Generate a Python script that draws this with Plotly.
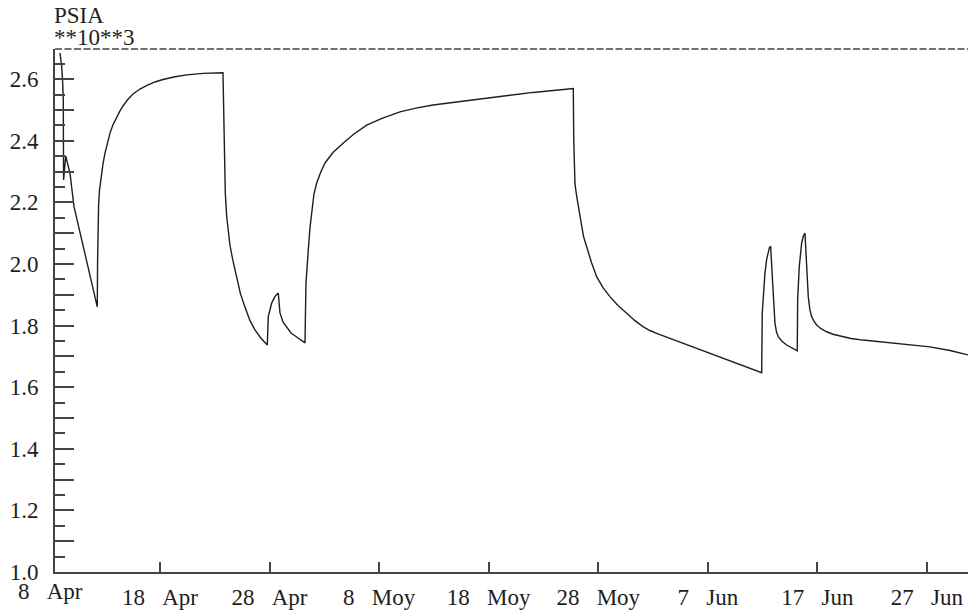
import pandas as pd
import plotly.graph_objects as go

# Well pressure record, days elapsed since 8 Apr, pressure in thousands of psia
start_date = "2021-04-08"
elapsed_days = [
    # early drawdown
    0.876, 1.031, 1.123, 1.177, 1.186, 1.196, 1.205, 1.396, 1.789, 2.154,
    2.701, 3.459, 4.280,
    # first build-up
    4.308, 4.344, 4.399, 4.481, 4.618, 4.801, 4.983, 5.211, 5.439, 5.713,
    6.051, 6.352, 6.626, 7.082, 7.539, 8.177, 8.816, 9.546, 10.277, 11.372,
    12.467, 13.927, 15.752,
    # second drawdown and short flow
    15.871, 15.963, 16.090, 16.236, 16.391, 16.665, 17.003, 17.350, 17.760, 18.217,
    18.673, 19.221, 19.796, 19.887, 20.197, 20.499, 20.799, 20.955, 21.228, 21.566,
    21.959, 22.479, 23.236,
    # long build-up
    23.327, 23.418, 23.537, 23.693, 23.848, 24.058, 24.304, 24.651, 25.062, 25.792,
    26.732, 27.708, 28.868, 30.264, 31.907, 33.367, 34.919, 37.200, 39.482, 41.764,
    44.045, 45.870, 47.723,
    # third drawdown
    47.769, 47.878, 48.034, 48.180, 48.426, 48.654, 48.946, 49.384, 49.859, 50.434,
    51.073, 51.803, 52.597, 53.354, 54.112, 54.723, 55.335, 64.917,
    # two short shut-ins
    64.972, 65.081, 65.219, 65.374, 65.520, 65.629, 65.739, 65.830, 65.921, 66.131,
    66.268, 66.432, 66.770, 67.199, 67.683, 68.166, 68.203, 68.349, 68.568, 68.714,
    68.869, 69.025, 69.171, 69.325, 69.481, 69.672, 69.937, 70.330, 70.850, 71.425,
    # late drawdown
    72.064, 73.068, 74.163, 75.714, 77.266, 78.817, 80.278, 82.103, 83.746,
]
psia_thousands = [
    2.685, 2.641, 2.588, 2.532, 2.425, 2.338, 2.273, 2.351, 2.294, 2.186,
    2.101, 1.981, 1.861,
    2.013, 2.120, 2.190, 2.240, 2.282, 2.325, 2.360, 2.395, 2.425, 2.452,
    2.477, 2.497, 2.513, 2.535, 2.552, 2.568, 2.580, 2.591, 2.599, 2.608,
    2.614, 2.619, 2.621,
    2.338, 2.230, 2.154, 2.100, 2.060, 2.010, 1.955, 1.903, 1.860, 1.816,
    1.786, 1.759, 1.737, 1.829, 1.873, 1.895, 1.906, 1.841, 1.812, 1.795,
    1.776, 1.763, 1.744,
    1.938, 2.000, 2.045, 2.118, 2.175, 2.228, 2.263, 2.296, 2.328, 2.362,
    2.393, 2.422, 2.451, 2.473, 2.494, 2.506, 2.516, 2.527, 2.537, 2.547,
    2.557, 2.564, 2.570,
    2.400, 2.260, 2.220, 2.186, 2.127, 2.090, 2.056, 2.005, 1.959, 1.923,
    1.894, 1.865, 1.840, 1.816, 1.796, 1.784, 1.775, 1.647,
    1.841, 1.915, 1.971, 2.015, 2.045, 2.054, 2.056, 2.010, 1.938, 1.808,
    1.780, 1.764, 1.749, 1.737, 1.727, 1.718, 1.883, 1.991, 2.068, 2.090,
    2.100, 1.991, 1.894, 1.850, 1.829, 1.815, 1.802, 1.790, 1.780, 1.772,
    1.766, 1.758, 1.753, 1.748, 1.743, 1.738, 1.731, 1.719, 1.705,
]

# Date axis ticks (every ten days) and their labels
tick_dates = ["2021-04-18", "2021-04-28", "2021-05-08", "2021-05-18",
              "2021-05-28", "2021-06-07", "2021-06-17", "2021-06-27"]
tick_days = ["18", "28", "8", "18", "28", "7", "17", "27"]
tick_months = ["Apr", "Apr", "Moy", "Moy", "Moy", "Jun", "Jun", "Jun"]
first_label = ("8", "Apr")

# Pressure axis ticks
y_tick_vals = [round(1.0 + 0.1 * i, 1) for i in range(17)]
y_tick_text = ["1.0", "", "1.2", "", "1.4", "", "1.6", "", "1.8", "",
               "2.0", "", "2.2", "", "2.4", "", "2.6"]

x_range_days = (0.42, 83.75)
y_range = (1.0, 2.698)

FONT = "Liberation Serif"
FONT_SIZE = 23
INK = "#1e1e1e"
AXIS = "#444444"
GAP = "\u00a0" * 3

base = pd.Timestamp(start_date)
x_vals = base + pd.to_timedelta(elapsed_days, unit="D")
x_lo = base + pd.to_timedelta(x_range_days[0], unit="D")
x_hi = base + pd.to_timedelta(x_range_days[1], unit="D")

fig = go.Figure()
fig.add_trace(go.Scatter(
    x=x_vals, y=psia_thousands, mode="lines",
    line=dict(color=INK, width=1.4), hoverinfo="skip",
))

fig.update_layout(
    width=968, height=611,
    margin=dict(l=55, r=0, t=49, b=39),
    paper_bgcolor="white", plot_bgcolor="white",
    showlegend=False,
    font=dict(family=FONT, size=FONT_SIZE, color=INK),
)

fig.update_xaxes(
    type="date", range=[x_lo, x_hi],
    showgrid=False, zeroline=False,
    showline=True, linecolor=AXIS, linewidth=2,
    ticks="inside", ticklen=10, tickwidth=1.5, tickcolor=AXIS,
    tickmode="array", tickvals=tick_dates,
    ticktext=[d + GAP + m for d, m in zip(tick_days, tick_months)],
    tickfont=dict(family=FONT, size=FONT_SIZE, color=INK),
    ticklabelstandoff=3,
)

fig.update_yaxes(
    range=list(y_range),
    showgrid=False, zeroline=False,
    showline=True, linecolor=AXIS, linewidth=2,
    ticks="inside", ticklen=19, tickwidth=1.5, tickcolor=AXIS,
    tickmode="array", tickvals=y_tick_vals, ticktext=y_tick_text,
    tickfont=dict(family=FONT, size=FONT_SIZE, color=INK),
    ticklabelstandoff=10,
    minor=dict(ticks="inside", ticklen=10, tickwidth=1.5, tickcolor=AXIS,
               tickmode="linear", tick0=1.0, dtick=0.05),
)

# Dashed frame line along the top of the plot
fig.add_shape(type="line", xref="paper", yref="paper", x0=0, x1=1, y0=1, y1=1,
              line=dict(color=AXIS, width=1.5, dash="7px,2.5px"))

# First date label sits just left of the plotted range
first_frac = (0 - x_range_days[0]) / (x_range_days[1] - x_range_days[0])
fig.add_annotation(xref="paper", yref="paper", x=first_frac, y=0,
                   text=first_label[0] + GAP + first_label[1], showarrow=False,
                   xanchor="center", yanchor="top", yshift=-6, borderpad=0,
                   font=dict(family=FONT, size=FONT_SIZE, color=INK))

# Unit labels above the pressure axis
fig.add_annotation(xref="paper", yref="paper", x=0, y=1, text="**10**3",
                   showarrow=False, xanchor="left", yanchor="bottom",
                   xshift=-2, yshift=-2, borderpad=0,
                   font=dict(family=FONT, size=FONT_SIZE, color=INK))
fig.add_annotation(xref="paper", yref="paper", x=0, y=1, text="PSIA",
                   showarrow=False, xanchor="left", yanchor="bottom",
                   xshift=-2, yshift=20, borderpad=0,
                   font=dict(family=FONT, size=FONT_SIZE, color=INK))

fig.write_html("out.html")
